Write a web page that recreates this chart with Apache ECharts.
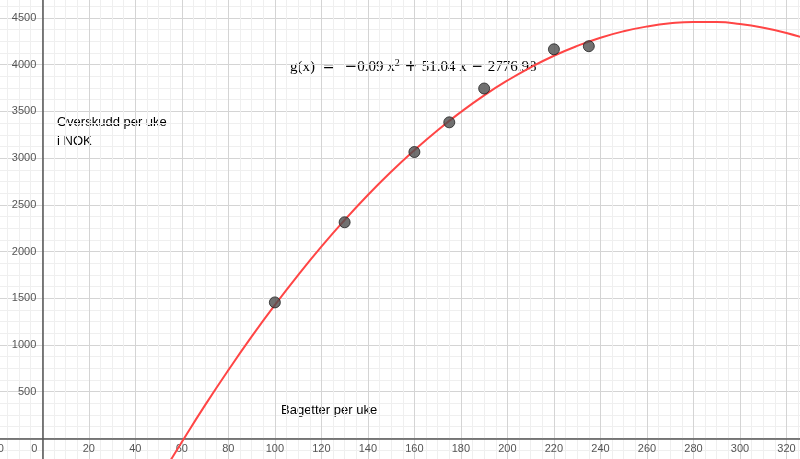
<!DOCTYPE html>
<html><head><meta charset="utf-8">
<script src="https://cdn.jsdelivr.net/npm/echarts@6/dist/echarts.min.js"></script>
<style>html,body{margin:0;padding:0;background:#fff}#c{width:800px;height:459px}</style>
</head><body><div id="c"></div>
<script>
// Fitted curve g(x)
const curveX = [55, 60, 70, 80, 90, 100, 110, 120, 130, 140, 150, 160, 170, 180, 190, 200, 210, 220, 230, 240, 250, 260, 270, 280, 290, 300, 310, 320, 330, 340];
const curveY = [-242, -39, 355, 730, 1088, 1427, 1748, 2052, 2337, 2605, 2854, 3085, 3299, 3494, 3672, 3831, 3972, 4096, 4201, 4289, 4358, 4409, 4443, 4458, 4456, 4435, 4396, 4340, 4265, 4173];
// Measured points
const pointX = [100, 130, 160, 175, 190, 220, 235];
const pointY = [1455, 2313, 3065, 3383, 3745, 4165, 4198];
// Texts
const yTitle1 = 'Overskudd per uke';
const yTitle2 = 'i NOK';
const xTitle = 'Bagetter per uke';

const FONT = 'Liberation Sans, Arial, sans-serif';
const chart = echarts.init(document.getElementById('c'));
const curve = curveX.map((x, i) => [x, curveY[i]]);
const pts = pointX.map((x, i) => [x, pointY[i]]);

const gridLines = {
  splitLine: { show: true, lineStyle: { color: '#d4d4d4', width: 1 } },
  minorTick: { show: false, splitNumber: 4 },
  minorSplitLine: { show: true, lineStyle: { color: '#efefef', width: 1 } }
};

chart.setOption({
  animation: false,
  backgroundColor: '#ffffff',
  grid: { left: -4.2, right: -33, top: -28.7, bottom: -26, containLabel: false, outerBoundsMode: 'none' },
  xAxis: [
    Object.assign({
      type: 'value', min: -20, max: 340, interval: 20,
      axisLine: { onZero: true, lineStyle: { color: '#555', width: 1.5 } },
      axisTick: { show: false },
      axisLabel: { show: false }
    }, gridLines),
    {
      type: 'value', min: -20, max: 340, interval: 20, position: 'bottom', offset: -46.7,
      axisLine: { show: false, onZero: false }, axisTick: { show: false }, splitLine: { show: false },
      axisLabel: {
        show: true, margin: 5, fontSize: 11, color: '#555', fontFamily: FONT, hideOverlap: false,
        formatter: v => v === 0 ? '{z|0}' : String(v),
        rich: { z: { fontSize: 11, color: '#555', padding: [0, 16, 0, 0], fontFamily: FONT } }
      }
    }
  ],
  yAxis: [
    Object.assign({
      type: 'value', min: -500, max: 5000, interval: 500,
      axisLine: { onZero: true, lineStyle: { color: '#555', width: 1.5 } },
      axisTick: { show: false },
      axisLabel: { show: false }
    }, gridLines),
    {
      type: 'value', min: -500, max: 5000, interval: 500, position: 'left', offset: -46.5,
      axisLine: { show: false, onZero: false }, axisTick: { show: false }, splitLine: { show: false },
      axisLabel: {
        show: true, margin: 6, fontSize: 11, color: '#555', fontFamily: FONT, hideOverlap: false,
        formatter: v => (v <= 0 || v >= 5000) ? '' : String(v)
      }
    }
  ],
  series: [
    {
      type: 'line', data: curve, smooth: true, symbol: 'none', xAxisIndex: 0, yAxisIndex: 0,
      lineStyle: { color: '#ff4545', width: 2 }, z: 3
    },
    {
      type: 'scatter', data: pts, symbolSize: 11, xAxisIndex: 0, yAxisIndex: 0,
      itemStyle: { color: '#4d4d4d', borderColor: '#222', borderWidth: 1 }, z: 4
    }
  ],
  graphic: [
    { type: 'text', left: 57, top: 116, style: { text: yTitle1, fontSize: 13, fill: '#000', fontFamily: FONT } },
    { type: 'text', left: 57, top: 135, style: { text: yTitle2, fontSize: 13, fill: '#000', fontFamily: FONT } },
    { type: 'text', left: 281, top: 404, style: { text: xTitle, fontSize: 13, fill: '#000', fontFamily: FONT } },
    { type: 'text', left: 290, top: 58, style: {
      text: '{a|g(x)  }{o|=  −}{a|0.09 x}{s|2}{o| + }{a|51.04 x }{o|− }{a|2776.98}',
      rich: {
        a: { fontSize: 15, fill: '#000', fontFamily: 'Liberation Serif, serif' },
        o: { fontSize: 15, fill: '#000', fontFamily: 'DejaVu Sans, sans-serif' },
        s: { fontSize: 10, fill: '#000', fontFamily: 'Liberation Serif, serif', verticalAlign: 'top', padding: [0, 0, 8, 0] }
      }
    } }
  ]
});
</script>
</body></html>
